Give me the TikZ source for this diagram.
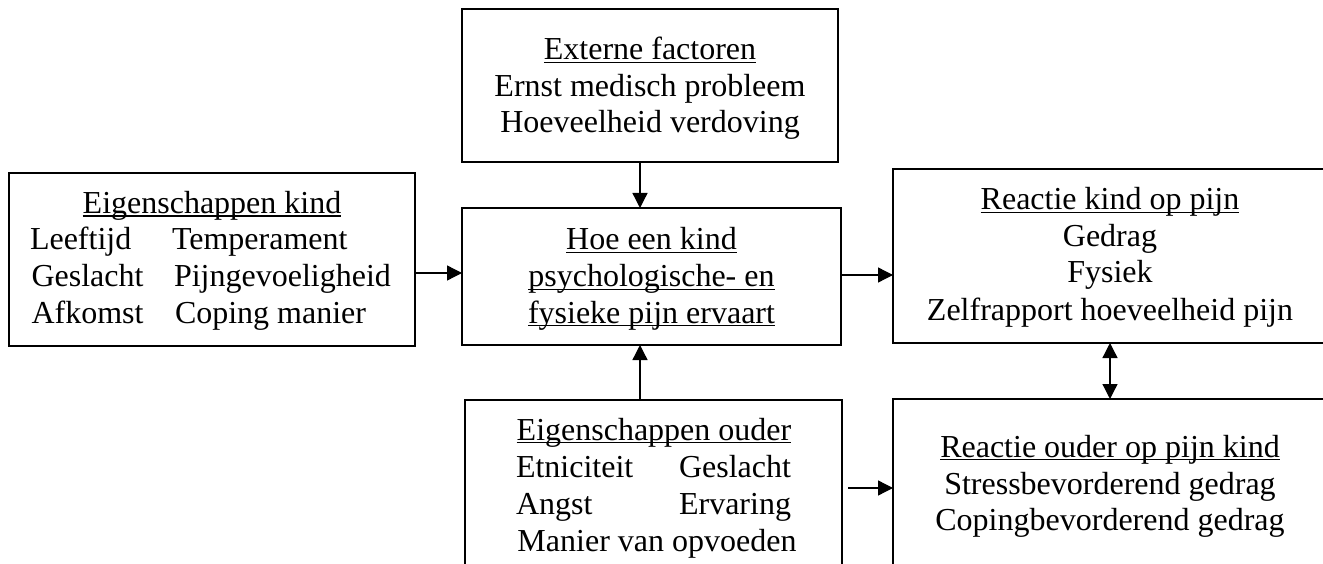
\documentclass[tikz,border=0pt]{standalone}
\usepackage{fontspec}
\setmainfont{Liberation Serif}
\usetikzlibrary{arrows.meta}
\newcommand\ulin[1]{\setbox0=\hbox{#1}\rlap{\rule[-3.4pt]{\wd0}{1.6pt}}\box0}
\begin{document}
\begin{tikzpicture}[x=1pt,y=-1pt,
  every node/.style={font=\fontsize{32}{37}\selectfont},
  box/.style={draw, line width=2.6pt, rectangle, inner sep=0pt, outer sep=0pt},
  txt/.style={inner sep=0pt, outer sep=0pt},
  arr/.style={line width=1.3pt, -{Triangle[length=15pt,width=15pt]}},
  darr/.style={line width=1.3pt, {Triangle[length=15pt,width=15pt]}-{Triangle[length=15pt,width=15pt]}}]
\clip (0,0) rectangle (1323,564);
\fill[white] (0,0) rectangle (1323,564);

% boxes
\node[box, minimum width=376pt, minimum height=153pt] (ext) at (650,85.5) {};
\node[box, minimum width=406pt, minimum height=173pt] (kind) at (212,259.5) {};
\node[box, minimum width=379pt, minimum height=137pt] (cen) at (651.5,276.5) {};
\node[box, minimum width=377pt, minimum height=200pt] (ouder) at (653.5,500) {};
\node[box, minimum width=434pt, minimum height=174pt] (rk) at (1110,256) {};
\node[box, minimum width=434pt, minimum height=200pt] (ro) at (1110,499) {};

% texts: Externe factoren
\node[txt, anchor=base] (t1) at (650,60) {\ulin{Externe factoren}};
\node[txt, anchor=base] (t2) at (650,97) {Ernst medisch probleem};
\node[txt, anchor=base] (t3) at (650,133) {Hoeveelheid verdoving};

% Eigenschappen kind
\node[txt, anchor=base] (k0) at (212,213.5) {\ulin{Eigenschappen kind}};
\node[txt, anchor=base west] (k1) at (30,250) {Leeftijd};
\node[txt, anchor=base west] (k2) at (172,250) {Temperament};
\node[txt, anchor=base west] (k3) at (31.5,287) {Geslacht};
\node[txt, anchor=base west] (k4) at (174,287) {Pijngevoeligheid};
\node[txt, anchor=base west] (k5) at (31.5,323) {Afkomst};
\node[txt, anchor=base west] (k6) at (175,323) {Coping manier};

% central
\node[txt, anchor=base] (c1) at (651.5,250) {\ulin{Hoe een kind}};
\node[txt, anchor=base] (c2) at (651.5,287) {\ulin{psychologische- en}};
\node[txt, anchor=base] (c3) at (651.5,323) {\ulin{fysieke pijn ervaart}};

% Eigenschappen ouder
\node[txt, anchor=base] (o0) at (654,440) {\ulin{Eigenschappen ouder}};
\node[txt, anchor=base west] (o1) at (516,477) {Etniciteit};
\node[txt, anchor=base east] (o2) at (791,477) {Geslacht};
\node[txt, anchor=base west] (o3) at (516,514) {Angst};
\node[txt, anchor=base east] (o4) at (791,514) {Ervaring};
\node[txt, anchor=base] (o5) at (657,551) {Manier van opvoeden};

% Reactie kind
\node[txt, anchor=base] (r0) at (1110,210) {\ulin{Reactie kind op pijn}};
\node[txt, anchor=base] (r1) at (1110,246.5) {Gedrag};
\node[txt, anchor=base] (r2) at (1110,283) {Fysiek};
\node[txt, anchor=base] (r3) at (1110,320) {Zelfrapport hoeveelheid pijn};

% Reactie ouder
\node[txt, anchor=base] (p0) at (1110,457) {\ulin{Reactie ouder op pijn kind}};
\node[txt, anchor=base] (p1) at (1110,494) {Stressbevorderend gedrag};
\node[txt, anchor=base] (p2) at (1110,530) {Copingbevorderend gedrag};

% helper coordinates
\coordinate (vx) at (640,0);
\coordinate (hk) at (0,273);
\coordinate (hr) at (0,275);
\coordinate (ho) at (0,488);
\coordinate (vr) at (1110,0);

% connectors
\draw[arr] (ext.south -| vx) -- (cen.north -| vx);
\draw[arr] (ouder.north -| vx) -- (cen.south -| vx);
\draw[arr] (kind.east |- hk) -- (cen.west |- hk);
\draw[arr] (cen.east |- hr) -- (rk.west |- hr);
\draw[arr, shorten <=6pt] (ouder.east |- ho) -- (ro.west |- ho);
\draw[darr] (rk.south -| vr) -- (ro.north -| vr);
\end{tikzpicture}
\end{document}
